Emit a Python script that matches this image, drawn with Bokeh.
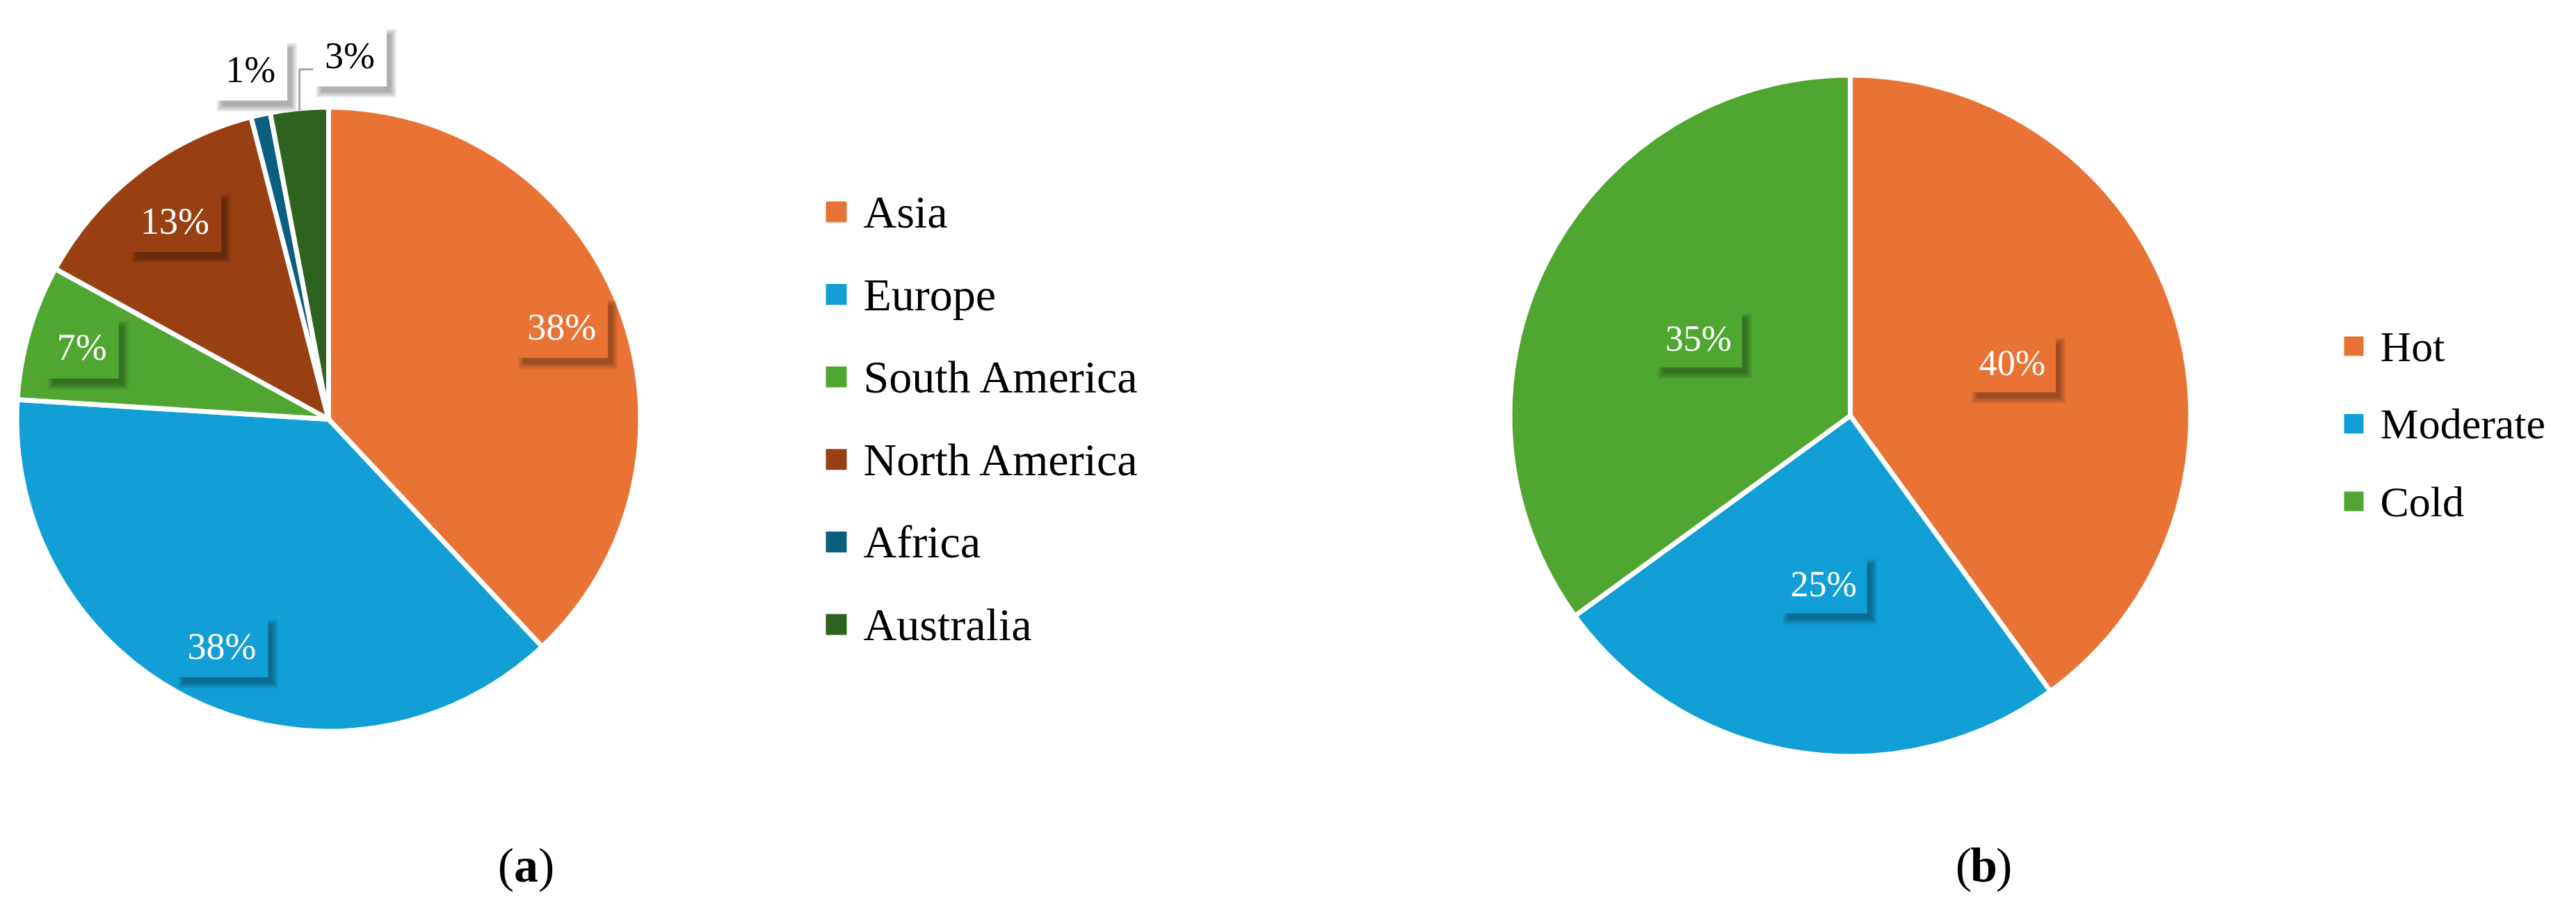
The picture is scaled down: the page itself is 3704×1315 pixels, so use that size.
import numpy as np
from bokeh.plotting import figure
from bokeh.models import Range1d
from bokeh.core.properties import value
from bokeh.embed import file_html
from bokeh.resources import INLINE

# ---------------- data ----------------
continents = ["Asia", "Europe", "South America", "North America", "Africa", "Australia"]
continent_share = [38, 38, 7, 13, 1, 3]
continent_colors = ["#E87334", "#119FD6", "#4FA731", "#994012", "#0A5E80", "#2E631F"]

climates = ["Hot", "Moderate", "Cold"]
climate_share = [40, 25, 35]
climate_colors = ["#E87334", "#119FD6", "#4FA731"]

captions = ["a", "b"]

# ---------------- layout / style ----------------
PAGE_W, PAGE_H = 3704, 1315
FONT = value("Liberation Serif")


def Y(py):
    return PAGE_H - py


p = figure(width=PAGE_W - 16, height=PAGE_H - 16,
           x_range=Range1d(0, PAGE_W - 16), y_range=Range1d(16, PAGE_H),
           x_axis_type=None, y_axis_type=None,
           toolbar_location=None, output_backend="svg", min_border=0)
p.outline_line_color = None
p.background_fill_color = "white"
p.border_fill_color = "white"


def shadowed_box(x, y, w, h, fill):
    for k in range(5):
        p.rect(x=x + 9, y=y - 11, width=w + 10 - 4 * k, height=h + 10 - 4 * k,
               fill_color="black", fill_alpha=0.07, line_color=None)
    p.rect(x=x, y=y, width=w, height=h, fill_color=fill, line_color=None)


def draw_pie(cx, cy, r, shares, colors, label_frac, outside, nudge, fsize, box_h, wscale):
    vals = np.array(shares, dtype=float)
    fr = vals / vals.sum()
    cum = np.concatenate([[0.0], np.cumsum(fr)])
    start = np.pi / 2 - cum[:-1] * 2 * np.pi
    end = np.pi / 2 - cum[1:] * 2 * np.pi
    p.wedge(x=cx, y=Y(cy), radius=r + 3.5, start_angle=start, end_angle=end,
            direction="clock", fill_color=colors, line_color="white", line_width=7)
    mid = (start + end) / 2
    for i, v in enumerate(shares):
        txt = f"{v}%"
        lx = cx + label_frac[i] * r * np.cos(mid[i]) + nudge[i]
        ly = Y(cy) + label_frac[i] * r * np.sin(mid[i])
        w = (52 + 27 * len(txt)) * wscale
        if outside[i]:
            if nudge[i] != 0:
                ex = cx + r * np.cos(mid[i])
                ey = Y(cy) + r * np.sin(mid[i])
                hy = ly - 20
                p.line(x=[ex, ex, lx - w / 2], y=[ey, hy, hy],
                       line_color="#A6A6A6", line_width=3)
            shadowed_box(lx, ly, w, box_h, "white")
            tcol = "black"
        else:
            shadowed_box(lx, ly, w, box_h, colors[i])
            tcol = "white"
        p.text(x=[lx], y=[ly], text=[txt], text_align="center", text_baseline="middle",
               text_color=tcol, text_font=FONT, text_font_size=f"{fsize}px")


def draw_legend(x0, y0, step, sq, names, colors, fsize):
    for i, (n, c) in enumerate(zip(names, colors)):
        yy = Y(y0 + i * step)
        p.rect(x=x0, y=yy, width=sq, height=sq, fill_color=c, line_color=None)
        p.text(x=[x0 + sq / 2 + 24], y=[yy], text=[n], text_align="left",
               text_baseline="middle", text_color="black", text_font=FONT,
               text_font_size=f"{fsize}px")


def draw_caption(x, py, letter, fsize):
    yy = Y(py)
    half = fsize * 0.25
    p.text(x=[x], y=[yy], text=[letter], text_align="center", text_baseline="middle",
           text_font=FONT, text_font_style="bold", text_font_size=f"{fsize}px", text_color="black")
    p.text(x=[x - half], y=[yy], text=["("], text_align="right", text_baseline="middle",
           text_font=FONT, text_font_size=f"{fsize}px", text_color="black")
    p.text(x=[x + half], y=[yy], text=[")"], text_align="left", text_baseline="middle",
           text_font=FONT, text_font_size=f"{fsize}px", text_color="black")


# (a) continents pie
draw_pie(472, 602, 445, continent_share, continent_colors,
         label_frac=[0.81, 0.81, 0.83, 0.81, 1.157, 1.18],
         outside=[False, False, False, False, True, True],
         nudge=[0, 0, 0, 0, 0, 80], fsize=54, box_h=89, wscale=1.0)
draw_legend(1202, 304, 118.6, 30, continents, continent_colors, 66)

# (b) climate pie
draw_pie(2660, 597, 486, climate_share, climate_colors,
         label_frac=[0.504, 0.504, 0.504],
         outside=[False, False, False],
         nudge=[0, 0, 0], fsize=52, box_h=84, wscale=0.94)
draw_legend(3384, 497, 111.5, 28, climates, climate_colors, 62)

draw_caption(756, 1243, captions[0], 70)
draw_caption(2852, 1243, captions[1], 70)

open("out.html", "w").write(file_html(p, INLINE))
